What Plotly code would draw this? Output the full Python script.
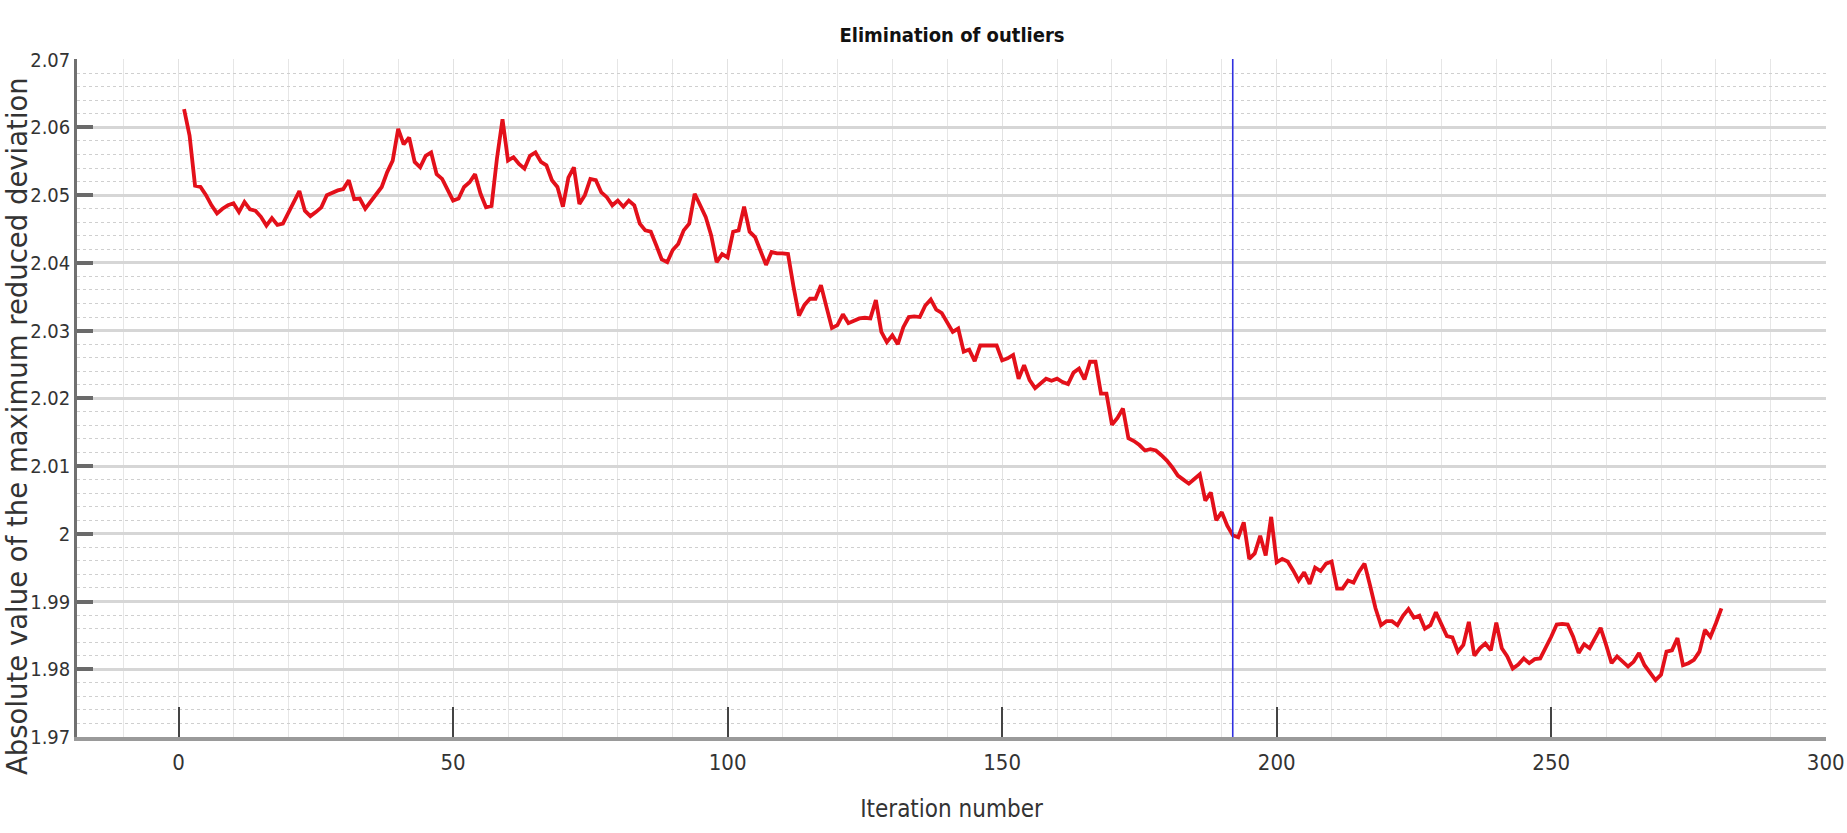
import plotly.graph_objects as go

title_text = "Elimination of outliers"
x_title = "Iteration number"
y_title = "Absolute value of the maximum reduced deviation"

iterations = list(range(1, 282))
max_reduced_deviation = [
    2.0627, 2.0588, 2.0514, 2.0512, 2.0500, 2.0485, 2.0473, 2.0480, 2.0485, 2.0488,
    2.0475, 2.0490, 2.0479, 2.0477, 2.0468, 2.0455, 2.0466, 2.0456, 2.0458, 2.0475,
    2.0490, 2.0506, 2.0477, 2.0469, 2.0475, 2.0482, 2.0500, 2.0504, 2.0507, 2.0509,
    2.0522, 2.0494, 2.0495, 2.0480, 2.0490, 2.0502, 2.0512, 2.0534, 2.0551, 2.0598,
    2.0575, 2.0585, 2.0549, 2.0541, 2.0558, 2.0563, 2.0531, 2.0524, 2.0507, 2.0492,
    2.0495, 2.0512, 2.0519, 2.0531, 2.0502, 2.0482, 2.0484, 2.0555, 2.0612, 2.0551,
    2.0556, 2.0546, 2.0539, 2.0558, 2.0563, 2.0549, 2.0544, 2.0522, 2.0512, 2.0483,
    2.0526, 2.0541, 2.0487, 2.0500, 2.0524, 2.0522, 2.0504, 2.0497, 2.0485, 2.0492,
    2.0483, 2.0492, 2.0485, 2.0458, 2.0448, 2.0446, 2.0426, 2.0405, 2.0401, 2.0419,
    2.0428, 2.0448, 2.0458, 2.0502, 2.0485, 2.0468, 2.0441, 2.0401, 2.0413, 2.0408,
    2.0446, 2.0448, 2.0483, 2.0446, 2.0438, 2.0416, 2.0397, 2.0416, 2.0414, 2.0414,
    2.0413, 2.0365, 2.0322, 2.0338, 2.0347, 2.0347, 2.0367, 2.0335, 2.0304, 2.0308,
    2.0324, 2.0311, 2.0315, 2.0318, 2.0319, 2.0318, 2.0345, 2.0298, 2.0283, 2.0293,
    2.0280, 2.0305, 2.0320, 2.0321, 2.0320, 2.0337, 2.0346, 2.0331, 2.0326, 2.0313,
    2.0298, 2.0303, 2.0269, 2.0272, 2.0255, 2.0278, 2.0278, 2.0278, 2.0278, 2.0256,
    2.0259, 2.0264, 2.0229, 2.0249, 2.0227, 2.0215, 2.0222, 2.0229, 2.0226, 2.0229,
    2.0224, 2.0221, 2.0238, 2.0244, 2.0228, 2.0254, 2.0254, 2.0207, 2.0207, 2.0161,
    2.0171, 2.0185, 2.0141, 2.0137, 2.0131, 2.0123, 2.0125, 2.0123, 2.0116, 2.0108,
    2.0098, 2.0086, 2.0080, 2.0074, 2.0081, 2.0088, 2.0049, 2.0061, 2.0020, 2.0032,
    2.0012, 1.9998, 1.9995, 2.0017, 1.9963, 1.9971, 1.9997, 1.9968, 2.0025, 1.9958,
    1.9963, 1.9959, 1.9946, 1.9931, 1.9943, 1.9926, 1.9950, 1.9945, 1.9956, 1.9959,
    1.9919, 1.9919, 1.9931, 1.9928, 1.9944, 1.9956, 1.9924, 1.9890, 1.9865, 1.9871,
    1.9871, 1.9865, 1.9879, 1.9889, 1.9876, 1.9879, 1.9860, 1.9865, 1.9884, 1.9866,
    1.9849, 1.9847, 1.9826, 1.9836, 1.9870, 1.9820, 1.9831, 1.9838, 1.9828, 1.9869,
    1.9831, 1.9819, 1.9801, 1.9807, 1.9816, 1.9809, 1.9815, 1.9816, 1.9831, 1.9848,
    1.9866, 1.9867, 1.9866, 1.9848, 1.9824, 1.9837, 1.9831, 1.9846, 1.9861, 1.9836,
    1.9809, 1.9819, 1.9812, 1.9804, 1.9811, 1.9824, 1.9806, 1.9794, 1.9784, 1.9792,
    1.9826, 1.9828, 1.9846, 1.9806, 1.9809, 1.9814, 1.9826, 1.9858, 1.9848, 1.9868,
    1.9890,
]
cutoff_iteration = 192

x_tickvals = [0, 50, 100, 150, 200, 250, 300]
y_tickvals = [1.97, 1.98, 1.99, 2.00, 2.01, 2.02, 2.03, 2.04, 2.05, 2.06, 2.07]
y_ticktext = ["1.97", "1.98", "1.99", "2", "2.01", "2.02", "2.03", "2.04", "2.05", "2.06", "2.07"]

narrow = "DejaVu Sans Condensed, Liberation Sans Narrow, Liberation Sans, Arial, sans-serif"

W, H = 1847, 833
ML, MR, MT, MB = 77, 21, 59, 96
PH = H - MT - MB

fig = go.Figure()
fig.add_trace(go.Scatter(
    x=iterations, y=max_reduced_deviation, mode="lines",
    line=dict(color="#e3101a", width=3.8), showlegend=False,
))
fig.add_vline(x=cutoff_iteration, line=dict(color="#3030e0", width=1.6), layer="above")

fig.add_annotation(
    text=y_title, textangle=-90, showarrow=False,
    xref="paper", yref="paper",
    x=(17 - ML) / (W - ML - MR), y=(H - MB - 777) / PH,
    xanchor="center", yanchor="bottom",
    font=dict(family="DejaVu Sans, sans-serif", size=27.5, color="#333"),
)

fig.update_layout(
    width=W, height=H,
    margin=dict(l=ML, r=MR, t=MT, b=MB, autoexpand=False),
    paper_bgcolor="white", plot_bgcolor="white",
    title=dict(text="<b>" + title_text + "</b>", x=(952 - ML) / (W - ML - MR), xref="paper",
               xanchor="center", y=1 - 35 / H, yanchor="middle",
               font=dict(family=narrow, size=20, color="#111")),
    xaxis=dict(
        range=[-18.5, 300.05], tickvals=x_tickvals, automargin=False,
        ticks="inside", ticklen=30, tickwidth=1.5, tickcolor="#444",
        tickfont=dict(family=narrow, size=22, color="#333"),
        ticklabelstandoff=3, ticklabeloverflow="allow",
        showline=True, linecolor="#9a9a9a", linewidth=4,
        showgrid=True, gridcolor="#e2e2e2", gridwidth=1,
        minor=dict(dtick=10, tick0=0, showgrid=True, gridcolor="#e6e6e6", gridwidth=1, ticks=""),
        zeroline=False,
        title=dict(text=x_title, standoff=27, font=dict(family=narrow, size=24, color="#333")),
    ),
    yaxis=dict(
        range=[1.97, 2.0701], tickvals=y_tickvals, ticktext=y_ticktext, automargin=False,
        ticks="inside", ticklen=16, tickwidth=3.5, tickcolor="#6a6a6a",
        tickfont=dict(family=narrow, size=20, color="#333"),
        ticklabeloverflow="allow",
        showline=True, linecolor="#707070", linewidth=2.5,
        showgrid=True, gridcolor="#d6d6d6", gridwidth=2.5,
        minor=dict(dtick=0.002, tick0=1.97, showgrid=True, gridcolor="#cfcfcf",
                   gridwidth=1, griddash="dot", ticks=""),
        zeroline=False,
    ),
)

fig.write_html("out.html")
